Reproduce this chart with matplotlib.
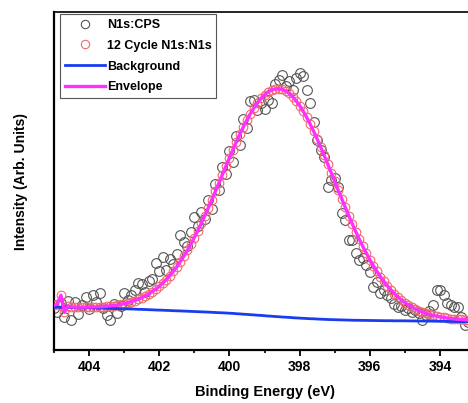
import numpy as np
import matplotlib
matplotlib.use("Agg")
import matplotlib.pyplot as plt
from matplotlib.ticker import MultipleLocator

plt.rcParams['font.family'] = ['Liberation Sans', 'DejaVu Sans']
plt.rcParams['font.weight'] = 'bold'

# Binding-energy grid: 405.0 eV down to 393.2 eV in 0.1 eV steps
be_start = 405.0
be_step = 0.1

# Raw N1s counts (arb. units)
raw_counts = [
    42, 38, 47, 33, 49, 30, 48, 36, 45, 53,
    41, 55, 48, 57, 42, 35, 30, 46, 37, 44,
    57, 50, 55, 60, 67, 66, 58, 69, 71, 87,
    79, 93, 80, 91, 86, 96, 115, 108, 104, 118,
    133, 124, 138, 131, 150, 141, 166, 160, 183, 176,
    199, 188, 214, 205, 231, 222, 249, 250, 240, 247,
    241, 250, 247, 266, 270, 275, 264, 269, 260, 272,
    277, 274, 260, 247, 228, 210, 200, 193, 163, 170,
    172, 163, 137, 130, 110, 110, 97, 90, 92, 85,
    78, 63, 68, 57, 60, 55, 52, 46, 43, 44,
    40, 42, 38, 40, 37, 30, 35, 39, 45, 60,
    60, 55, 47, 45, 43, 43, 33, 25, 28,
]

# Shirley-type background
background = [
    43.0, 42.9, 42.8, 42.8, 42.7, 42.6, 42.5, 42.4, 42.3, 42.3,
    42.2, 42.1, 42.0, 41.9, 41.8, 41.7, 41.6, 41.5, 41.4, 41.3,
    41.2, 41.1, 41.0, 40.9, 40.7, 40.6, 40.5, 40.3, 40.2, 40.0,
    39.9, 39.8, 39.6, 39.5, 39.3, 39.2, 39.1, 38.9, 38.8, 38.6,
    38.5, 38.3, 38.2, 38.0, 37.9, 37.7, 37.5, 37.3, 37.2, 37.0,
    36.8, 36.6, 36.3, 36.1, 35.8, 35.6, 35.3, 35.1, 34.8, 34.6,
    34.3, 34.0, 33.8, 33.5, 33.3, 33.0, 32.8, 32.6, 32.3, 32.1,
    31.9, 31.7, 31.5, 31.3, 31.2, 31.0, 30.8, 30.7, 30.5, 30.4,
    30.3, 30.2, 30.1, 30.0, 29.9, 29.8, 29.7, 29.7, 29.6, 29.6,
    29.5, 29.5, 29.4, 29.4, 29.3, 29.3, 29.3, 29.2, 29.2, 29.2,
    29.2, 29.1, 29.1, 29.0, 29.0, 29.0, 28.9, 28.9, 28.8, 28.8,
    28.7, 28.7, 28.6, 28.5, 28.5, 28.4, 28.4, 28.3, 28.2,
]

# Fitted N1s component (above background)
component = [
    2.0, 3.0, 12.0, -5.0, 1.5, 0.5, 0.3, 0.4, 0.5, 0.6,
    0.8, 0.9, 1.2, 1.4, 1.7, 2.1, 2.5, 3.0, 3.6, 4.4,
    5.2, 6.2, 7.3, 8.6, 10.0, 11.7, 13.6, 15.7, 18.2, 20.8,
    23.8, 27.2, 30.8, 34.9, 39.3, 44.1, 49.3, 54.9, 60.9, 67.3,
    74.0, 81.1, 88.6, 96.4, 104.4, 112.7, 121.1, 129.6, 138.3, 146.9,
    155.5, 163.9, 172.1, 180.0, 187.5, 194.6, 201.2, 207.2, 212.5, 217.1,
    221.0, 224.0, 226.2, 227.6, 228.0, 227.6, 226.2, 224.0, 221.0, 217.1,
    212.5, 207.2, 201.2, 194.6, 187.5, 180.0, 172.1, 163.9, 155.5, 146.9,
    138.3, 129.6, 121.1, 112.7, 104.4, 96.4, 88.6, 81.1, 74.0, 67.3,
    60.9, 54.9, 49.3, 44.1, 39.3, 34.9, 30.8, 27.2, 23.8, 20.8,
    18.2, 16.0, 13.9, 12.0, 10.4, 9.0, 7.8, 6.8, 5.9, 5.1,
    4.4, 3.9, 3.4, 3.0, 2.7, 2.4, 2.2, 2.0, 1.8,
]

x_ticks = [404, 402, 400, 398, 396, 394]

raw_counts = np.array(raw_counts, dtype=float)
background = np.array(background)
component = np.array(component)
be = be_start - be_step * np.arange(len(raw_counts))
fitted = background + component
envelope = background + component

fig = plt.figure(figsize=(4.68, 4.03), dpi=100)
ax = fig.add_axes([0.1152, 0.1315, 0.900, 0.8387])

ax.plot(be, raw_counts, linestyle='none', marker='o', markersize=7.0,
        markerfacecolor='none', markeredgecolor='#555555',
        markeredgewidth=0.8, label='N1s:CPS', zorder=2)
ax.plot(be, fitted, linestyle='none', marker='o', markersize=6.2,
        markerfacecolor='none', markeredgecolor='#f06a6a',
        markeredgewidth=0.8, label='12 Cycle N1s:N1s', zorder=3)
ax.plot(be, background, color='#1a3cf0', linewidth=2.0,
        label='Background', zorder=4)
ax.plot(be, envelope, color='#ff30ff', linewidth=2.4,
        label='Envelope', zorder=5)

ax.set_xlim(405, 393)
ax.set_ylim(0, 338)
ax.set_yticks([])
ax.xaxis.set_major_locator(MultipleLocator(2))
ax.xaxis.set_minor_locator(MultipleLocator(1))
ax.set_xticks(x_ticks)
ax.set_xticklabels([str(t) for t in x_ticks])
ax.tick_params(axis='x', which='major', direction='out', length=4,
               width=1.3, labelsize=10, pad=3)
ax.tick_params(axis='x', which='minor', direction='out', length=2.5,
               width=1.2)
for lbl in ax.get_xticklabels():
    lbl.set_fontweight('bold')

for side in ('left', 'bottom'):
    ax.spines[side].set_linewidth(1.6)
ax.spines['top'].set_linewidth(1.2)
ax.spines['right'].set_visible(False)

ax.set_xlabel('Binding Energy (eV)', fontsize=10.5, fontweight='bold',
              labelpad=8)
ax.set_ylabel('Intensity (Arb. Units)', fontsize=10, fontweight='bold',
              labelpad=19)

leg = ax.legend(loc='upper left', bbox_to_anchor=(0.014, 0.994),
                borderaxespad=0, fancybox=False, framealpha=1,
                edgecolor='#555555', handlelength=3.2, handletextpad=0.15,
                labelspacing=0.7, borderpad=0.4,
                prop={'size': 9, 'weight': 'bold'})
leg.get_frame().set_linewidth(0.8)
for h in leg.legend_handles[:2]:
    h.set_markersize(6.0)

fig.savefig('out.png', dpi=100)
